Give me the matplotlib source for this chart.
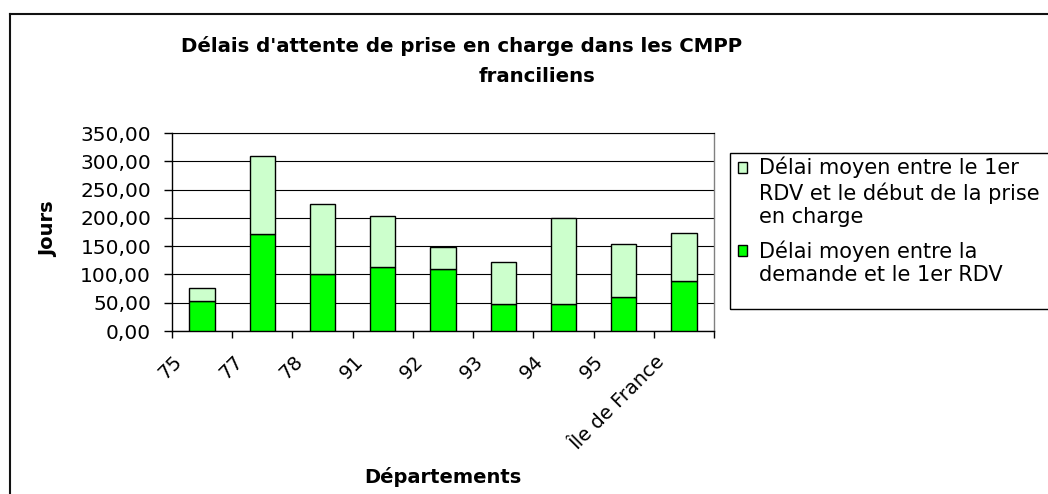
import matplotlib
matplotlib.use('Agg')
import matplotlib.pyplot as plt
from matplotlib.lines import Line2D
from matplotlib.patches import Rectangle
from matplotlib.legend_handler import HandlerBase
import matplotlib.transforms as mtransforms
import numpy as np

categories = ['75', '77', '78', '91', '92', '93', '94', '95', 'Île de France']
delai_demande_rdv = [53, 171, 100, 113, 109, 47, 47, 60, 89]
delai_rdv_prise = [23, 139, 125, 90, 40, 75, 153, 94, 85]
y_ticks = [0, 50, 100, 150, 200, 250, 300, 350]
label_dark = 'Délai moyen entre la\ndemande et le 1er RDV'
label_light = 'Délai moyen entre le 1er\nRDV et le début de la prise\nen charge'

plt.rcParams['font.family'] = ['DejaVu Sans']
W, H = 1048, 494
LEG_FS = 15
LEG_LS = 1.2
fig = plt.figure(figsize=(W / 100, H / 100), dpi=100)
fig.patch.set_facecolor('white')

ax = fig.add_axes([172 / W, 1 - 331 / H, (714 - 172) / W, (331 - 133) / H])
x = np.arange(len(categories))
ax.bar(x, delai_demande_rdv, width=0.42, color='#00FF00', edgecolor='black',
       linewidth=1.0, zorder=3, label=label_dark)
ax.bar(x, delai_rdv_prise, bottom=delai_demande_rdv, width=0.42, color='#CCFFCC',
       edgecolor='black', linewidth=1.0, zorder=3, label=label_light)
ax.set_xlim(-0.5, len(categories) - 0.5)
ax.set_ylim(0, 350)
ax.set_yticks(y_ticks)
ax.set_yticklabels([f'{v:.2f}'.replace('.', ',') for v in y_ticks], fontsize=14.5)
ax.yaxis.grid(True, color='black', linewidth=0.8, zorder=0)
ax.set_axisbelow(True)

ax.set_xticks(np.arange(len(categories) + 1) - 0.5)
ax.set_xticklabels([])
ax.set_xticks(x, categories, minor=True)
ax.tick_params(axis='x', which='major', direction='out', length=5, width=1, color='black')
ax.tick_params(axis='x', which='minor', length=0, pad=15, labelsize=14)
ax.tick_params(axis='y', direction='out', length=6, width=1, pad=9)
offset = mtransforms.ScaledTranslation(-16 / 100, 0, fig.dpi_scale_trans)
for lab in ax.get_xticklabels(minor=True):
    lab.set_rotation(45)
    lab.set_ha('right')
    lab.set_va('top')
    lab.set_transform(lab.get_transform() + offset)

for s in ['left', 'bottom']:
    ax.spines[s].set_color('black')
    ax.spines[s].set_linewidth(1.0)
ax.spines['top'].set_color('black')
ax.spines['top'].set_linewidth(0.8)
ax.spines['right'].set_color('#808080')
ax.spines['right'].set_linewidth(1.0)

ax.set_ylabel('Jours', fontsize=14, fontweight='bold')
ax.yaxis.set_label_coords(-0.211, 0.515)
ax.set_xlabel('Départements', fontsize=14, fontweight='bold')
ax.xaxis.set_label_coords(0.5, -0.687)

fig.text(462 / W, 1 - 52 / H, "Délais d'attente de prise en charge dans les CMPP",
         ha='center', va='baseline', fontsize=14.2, fontweight='bold')
fig.text(537 / W, 1 - 82 / H, 'franciliens',
         ha='center', va='baseline', fontsize=14.2, fontweight='bold')


class TopSquareHandler(HandlerBase):
    """Square legend key aligned with the first line of a multi-line label."""

    def __init__(self, nlines, **kw):
        super().__init__(**kw)
        self.nlines = nlines

    def create_artists(self, legend, orig_handle, xdescent, ydescent, width,
                       height, fontsize, trans):
        shift = (self.nlines - 1) / 2 * LEG_LS * fontsize
        patch = orig_handle.patches[0] if hasattr(orig_handle, 'patches') else orig_handle
        r = Rectangle((-xdescent, -ydescent + shift), width, height,
                      facecolor=patch.get_facecolor(), edgecolor='black', lw=1.0,
                      transform=trans)
        return [r]


h, l = ax.get_legend_handles_labels()
h, l = h[::-1], l[::-1]
hmap = {hh: TopSquareHandler(ll.count('\n') + 1) for hh, ll in zip(h, l)}
leg = fig.legend(h, l, loc='upper left', bbox_to_anchor=(738 / W, 1 - 157 / H),
                 frameon=False, fontsize=LEG_FS, handlelength=0.45, handleheight=0.45,
                 handletextpad=0.55, borderpad=0, borderaxespad=0, labelspacing=0.65,
                 handler_map=hmap)
for t in leg.get_texts():
    t.set_linespacing(LEG_LS)
fig.add_artist(Rectangle((730 / W, 1 - 309 / H), (1052 - 730) / W, 156 / H,
                         transform=fig.transFigure, fill=False, ec='black', lw=1))

fig.add_artist(Line2D([10 / W, 10 / W], [0, 1 - 14 / H], transform=fig.transFigure,
                      color='#111111', lw=1.5))
fig.add_artist(Line2D([10 / W, 1], [1 - 14 / H, 1 - 14 / H], transform=fig.transFigure,
                      color='#111111', lw=1.5))

fig.savefig('out.png', dpi=100)
